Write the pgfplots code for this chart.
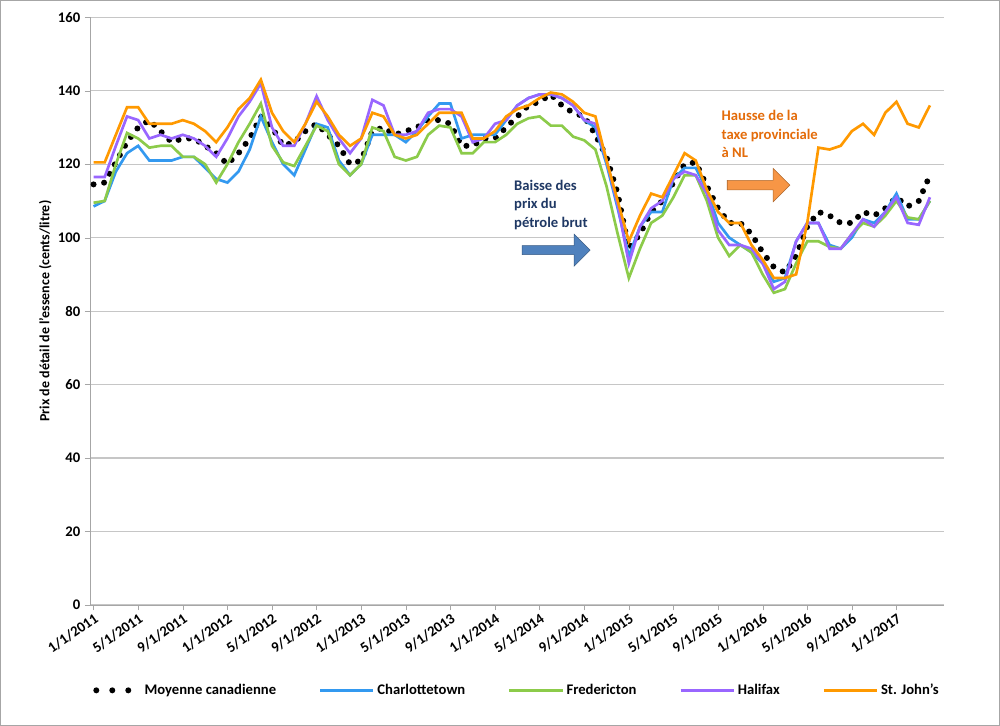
\documentclass[border=0pt]{standalone}
\usepackage{pgfplots}
\pgfplotsset{compat=1.18}
\usepackage{fontspec}
\setmainfont{Carlito}
\usetikzlibrary{shapes.arrows}
\definecolor{cblue}{HTML}{3399F0}
\definecolor{cgreen}{HTML}{8CCB4A}
\definecolor{cpurple}{HTML}{9966FF}
\definecolor{corange}{HTML}{FF9900}
\definecolor{tblue}{HTML}{1F3864}
\definecolor{torange}{HTML}{E46C0A}
\definecolor{abl}{HTML}{4F81BD}
\definecolor{aor}{HTML}{F79646}
\begin{document}
\begin{tikzpicture}[x=0.75pt,y=0.75pt]
\draw[gray!70,fill=white] (0,0) rectangle (1000,-725);
\begin{axis}[at={(90pt*0.75,-605pt*0.75)},anchor=south west,
 scale only axis, width=641pt, height=441pt,
 xmin=-0.3, xmax=76.3, ymin=0, ymax=160, ytick={0,20,...,160},
 xtick={0,4,...,72},
 xticklabels={1/1/2011,5/1/2011,9/1/2011,1/1/2012,5/1/2012,9/1/2012,1/1/2013,5/1/2013,9/1/2013,1/1/2014,5/1/2014,9/1/2014,1/1/2015,5/1/2015,9/1/2015,1/1/2016,5/1/2016,9/1/2016,1/1/2017},
 x tick label style={rotate=35,anchor=north east,font=\bfseries\fontsize{11}{12}\selectfont,inner sep=1pt},
 y tick label style={font=\bfseries\fontsize{11}{12}\selectfont},
 /pgf/number format/assume math mode=true,
 ymajorgrids, grid style={gray!45,line width=0.8pt},
 axis line style={gray!70}, axis x line*=bottom, axis y line*=left,
 tick style={gray!70}, xtick align=outside, ytick align=outside,
 major tick length=4pt,
 ylabel={\bfseries Prix de détail de l'essence (cents/litre)},
 ylabel style={font=\fontsize{10.5}{12}\selectfont, yshift=-2pt},
 legend style={at={(0.5,-0.125)},anchor=north,draw=none,fill=none,legend columns=5,font=\bfseries\fontsize{11}{13}\selectfont,
   /tikz/every even column/.append style={column sep=30pt}},
 legend image code/.code={\draw[#1] (0pt,0pt) -- (40pt,0pt);},
 clip=false]
\addplot[black,line width=4.5pt,line cap=round,dash pattern=on 0pt off 8pt,
  legend image code/.code={\draw[black,line width=4.5pt,line cap=round,dash pattern=on 0pt off 12pt] (4pt,0pt) -- (36pt,0pt);}] coordinates {
(0,114.5)(1,115)(2,120.5)(3,126)(4,130)(5,132)(6,129)(7,126)(8,127)(9,127)(10,125)(11,123)
(12,120)(13,123)(14,127)(15,133)(16,130)(17,125)(18,126)(19,129)(20,131)(21,128)(22,125)(23,120)
(24,121)(25,129)(26,130)(27,128)(28,129)(29,130)(30,132)(31,132)(32,131)(33,125)(34,125)(35,127)
(36,127)(37,130)(38,133)(39,136)(40,137)(41,139)(42,136)(43,134)(44,133)(45,128)(46,122)(47,112)
(48,97)(49,101)(50,107)(51,110)(52,115)(53,120)(54,120.5)(55,114)(56,108)(57,104)(58,104)(59,101)
(60,96)(61,92)(62,90.5)(63,95)(64,103)(65,107)(66,106)(67,104)(68,104)(69,107)(70,106)(71,108)
(72,111)(73,108.5)(74,110)(75,117)};
\addlegendentry{Moyenne canadienne}
\addplot[cblue,line width=2pt] coordinates {
(0,108.5)(1,110)(2,118)(3,123)(4,125)(5,121)(6,121)(7,121)(8,122)(9,122)(10,119)(11,116)
(12,115)(13,118)(14,124)(15,133)(16,126)(17,120)(18,117)(19,124)(20,131)(21,130)(22,121)(23,117)
(24,120)(25,128)(26,128)(27,128)(28,126)(29,129)(30,133)(31,136.5)(32,136.5)(33,127)(34,128)(35,128)
(36,128)(37,132)(38,136)(39,138)(40,139)(41,139)(42,138)(43,136)(44,132)(45,130)(46,120)(47,108)
(48,95)(49,103)(50,107)(51,107)(52,116)(53,119)(54,119)(55,113)(56,104)(57,100)(58,98)(59,96)
(60,93)(61,88)(62,89)(63,99)(64,104)(65,104)(66,98)(67,97)(68,100)(69,105)(70,104)(71,107)
(72,112)(73,105)(74,105)(75,110)};
\addlegendentry{Charlottetown}
\addplot[cgreen,line width=2pt] coordinates {
(0,109.5)(1,110)(2,120)(3,128.5)(4,127)(5,124.5)(6,125)(7,125)(8,122)(9,122)(10,120)(11,115)
(12,120)(13,126)(14,131)(15,136.5)(16,125)(17,120.5)(18,119.5)(19,125)(20,130.5)(21,129)(22,120)(23,117)
(24,120)(25,130)(26,129)(27,122)(28,121)(29,122)(30,128)(31,130.5)(32,130)(33,123)(34,123)(35,126)
(36,126)(37,128)(38,131)(39,132.5)(40,133)(41,130.5)(42,130.5)(43,127.5)(44,126.5)(45,124)(46,114)(47,101)
(48,89)(49,97)(50,104)(51,106)(52,111)(53,117)(54,117)(55,110)(56,100)(57,95)(58,98)(59,96)
(60,90)(61,85)(62,86)(63,93)(64,99)(65,99)(66,97.5)(67,97)(68,101)(69,104)(70,103)(71,106)
(72,110)(73,105.5)(74,105)(75,110)};
\addlegendentry{Fredericton}
\addplot[cpurple,line width=2pt] coordinates {
(0,116.5)(1,116.5)(2,125)(3,133)(4,132)(5,127)(6,128)(7,127)(8,128)(9,127)(10,125)(11,122)
(12,127)(13,133)(14,137)(15,142)(16,130)(17,125)(18,125)(19,131)(20,138.5)(21,132)(22,127)(23,123)
(24,127)(25,137.5)(26,136)(27,128)(28,128)(29,129)(30,134)(31,135)(32,135)(33,133)(34,126)(35,127)
(36,131)(37,132)(38,136)(39,138)(40,139)(41,139)(42,138)(43,136)(44,132)(45,131)(46,121)(47,109)
(48,93)(49,103)(50,108)(51,110)(52,116)(53,118)(54,117)(55,112)(56,102)(57,98)(58,98)(59,97)
(60,93)(61,86)(62,88)(63,99)(64,104)(65,104)(66,97)(67,97)(68,101)(69,105)(70,103)(71,107)
(72,111)(73,104)(74,103.5)(75,111)};
\addlegendentry{Halifax}
\addplot[corange,line width=2pt] coordinates {
(0,120.5)(1,120.5)(2,128)(3,135.5)(4,135.5)(5,131)(6,131)(7,131)(8,132)(9,131)(10,129)(11,126)
(12,130)(13,135)(14,138)(15,143)(16,134)(17,129)(18,126)(19,131)(20,137)(21,133)(22,128)(23,125)
(24,127)(25,134)(26,133)(27,128)(28,127)(29,128)(30,131)(31,134)(32,134)(33,134)(34,127)(35,127)
(36,129)(37,133)(38,135)(39,136)(40,138)(41,139.5)(42,139)(43,137)(44,134)(45,133)(46,121)(47,110)
(48,99)(49,106)(50,112)(51,111)(52,117)(53,123)(54,121)(55,113)(56,107)(57,104)(58,104)(59,98)
(60,94)(61,89)(62,89)(63,90)(64,104)(65,124.5)(66,124)(67,125)(68,129)(69,131)(70,128)(71,134)
(72,137)(73,131)(74,130)(75,136)};
\addlegendentry{St. John's}
\node[single arrow,draw=abl!70!black,fill=abl,minimum height=51pt,minimum width=24pt,single arrow head extend=3pt,anchor=west,inner sep=1pt] at (axis cs:38.4,96.6) {};
\node[single arrow,draw=aor!70!black,fill=aor,minimum height=47pt,minimum width=25pt,single arrow head extend=3pt,anchor=west,inner sep=1pt] at (axis cs:56.8,114.3) {};
\node[anchor=north west,align=left,text=tblue,font=\bfseries\fontsize{11}{14}\selectfont] at (axis cs:37.3,117) {Baisse des\\prix du\\pétrole brut};
\node[anchor=north west,align=left,text=torange,font=\bfseries\fontsize{11}{14}\selectfont] at (axis cs:55.9,136) {Hausse de la\\taxe provinciale\\à NL};
\end{axis}
\end{tikzpicture}
\end{document}
